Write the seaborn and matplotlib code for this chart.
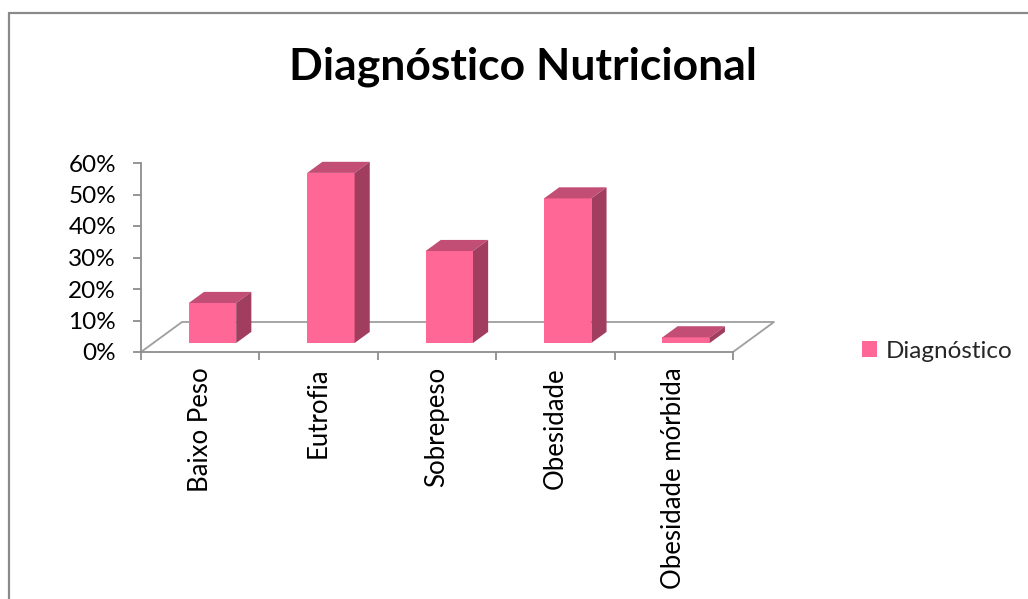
import matplotlib
matplotlib.use("Agg")
import matplotlib.pyplot as plt
import matplotlib.transforms as mtransforms
from matplotlib.patches import Polygon
from matplotlib.lines import Line2D
from matplotlib.ticker import FuncFormatter, FixedLocator
import seaborn as sns
import pandas as pd

# ---- data -------------------------------------------------------------
categories = ["Baixo Peso", "Eutrofia", "Sobrepeso", "Obesidade", "Obesidade mórbida"]
values = [0.127, 0.54, 0.292, 0.459, 0.018]
series_name = "Diagnóstico"
y_ticks = [0.0, 0.1, 0.2, 0.3, 0.4, 0.5, 0.6]
title = "Diagnóstico Nutricional"

# ---- style ------------------------------------------------------------
FRONT = "#FF6797"
TOP = "#C24E76"
SIDE = "#A13E60"
AXIS_GREY = "#8E8E8E"
FLOOR_GREY = "#9E9E9E"
FONT = ["Lato", "DejaVu Sans"]
LABEL_SIZE = 17.5
CAT_SIZE = 18.5

DPI = 100
W, H = 1028, 599
FLOOR_DEPTH = (41.0, 30.0)      # oblique depth of the floor, pixels (right, up)
BAR_FRONT = 0.30                # bar front plane as a fraction of floor depth
BAR_DEPTH = 0.37                # bar depth as a fraction of floor depth

sns.set_theme(style="white")
plt.rcParams["font.family"] = FONT

fig = plt.figure(figsize=(W / DPI, H / DPI), dpi=DPI)
fig.patch.set_facecolor("white")

# axes rectangle in pixels (front plane of the chart)
ax_l, ax_r, ax_top, ax_bot = 141, 733, 163, 352
ax = fig.add_axes([ax_l / W, (H - ax_bot) / H, (ax_r - ax_l) / W, (ax_bot - ax_top) / H])
ax.set_facecolor("none")

df = pd.DataFrame({"categoria": categories, "valor": values})
sns.barplot(data=df, x="categoria", y="valor", color=FRONT, saturation=1,
            width=0.4, ax=ax, label=series_name, zorder=3, linewidth=0)

ax.set_xlim(-0.5, len(categories) - 0.5)
ax.set_ylim(0, 0.6)
ax.set_xlabel("")
ax.set_ylabel("")

# push the bars back into the middle of the floor and add top/side faces
fx, fy = FLOOR_DEPTH
off_x, off_y = fx * BAR_FRONT, fy * BAR_FRONT
dep_x, dep_y = fx * BAR_DEPTH, fy * BAR_DEPTH
shift = mtransforms.ScaledTranslation(off_x / DPI, off_y / DPI, fig.dpi_scale_trans)
pix = mtransforms.IdentityTransform()
for bar in list(ax.patches):
    bar.set_transform(ax.transData + shift)
    x0, y0 = bar.get_x(), bar.get_y()
    x1, y1 = x0 + bar.get_width(), y0 + bar.get_height()
    (px0, py0), (px1, py1) = ax.transData.transform([(x0, y0), (x1, y1)])
    px0 += off_x; px1 += off_x; py0 += off_y; py1 += off_y
    top = [(px0, py1), (px1, py1), (px1 + dep_x, py1 + dep_y), (px0 + dep_x, py1 + dep_y)]
    side = [(px1, py0), (px1 + dep_x, py0 + dep_y), (px1 + dep_x, py1 + dep_y), (px1, py1)]
    ax.add_patch(Polygon(top, closed=True, facecolor=TOP, edgecolor="none",
                         transform=pix, clip_on=False, zorder=3))
    ax.add_patch(Polygon(side, closed=True, facecolor=SIDE, edgecolor="none",
                         transform=pix, clip_on=False, zorder=3))

# floor outline (back edge and the two receding edges)
(fl0, fb), (fl1, _) = ax.transData.transform([(-0.5, 0), (len(categories) - 0.5, 0)])
floor = [(fl0, fb), (fl0 + fx, fb + fy), (fl1 + fx, fb + fy), (fl1, fb)]
ax.add_line(Line2D([p[0] for p in floor], [p[1] for p in floor], color=FLOOR_GREY,
                   lw=1.3, transform=pix, clip_on=False, zorder=1))

# spines and ticks
for s in ("top", "right"):
    ax.spines[s].set_visible(False)
for s in ("left", "bottom"):
    ax.spines[s].set_color(AXIS_GREY)
    ax.spines[s].set_linewidth(1.3)

ax.yaxis.set_major_locator(FixedLocator(y_ticks))
ax.yaxis.set_major_formatter(FuncFormatter(lambda v, _: f"{v:.0%}"))
ax.tick_params(axis="y", which="major", left=True, direction="out", length=6,
               width=1.3, color=AXIS_GREY, pad=12, labelsize=LABEL_SIZE,
               labelcolor="black")

ax.set_xticks(range(len(categories)))
ax.set_xticklabels(categories, rotation=90, va="top", ha="center")
ax.set_xticks([i - 0.5 for i in range(len(categories) + 1)], minor=True)
ax.tick_params(axis="x", which="major", bottom=True, length=0, pad=11,
               labelsize=CAT_SIZE, labelcolor="black")
ax.tick_params(axis="x", which="minor", bottom=True, direction="out", length=6,
               width=1.3, color=AXIS_GREY)

# legend
ax.legend(loc="center left", bbox_to_anchor=(862 / W, (H - 351) / H),
          bbox_transform=fig.transFigure, frameon=False, fontsize=LABEL_SIZE,
          handlelength=0.62, handleheight=0.62, handletextpad=0.35,
          borderpad=0, borderaxespad=0)

# title
fig.text(523 / W, (H - 67) / H, title, ha="center", va="center",
         fontsize=32, fontweight="bold", color="black")

# chart-area frame
fig.add_artist(Line2D([9 / W, 9 / W], [0, (H - 13) / H], color="#8A8A8A", lw=1.6,
                      transform=fig.transFigure))
fig.add_artist(Line2D([9 / W, 1], [(H - 13) / H, (H - 13) / H], color="#8A8A8A", lw=1.6,
                      transform=fig.transFigure))

fig.savefig("out.png", dpi=DPI, facecolor="white")
